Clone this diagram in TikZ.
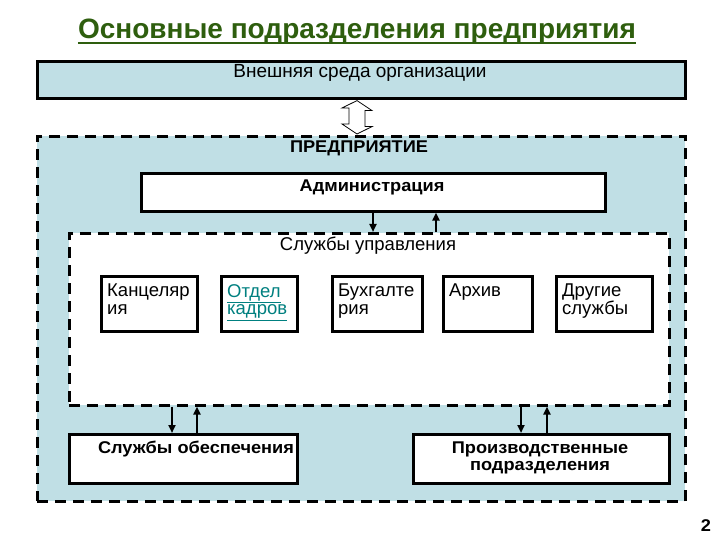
\documentclass[tikz,border=0pt]{standalone}
\usepackage{fontspec}
\setmainfont{Liberation Sans}
\newfontfamily\wideb[FakeStretch=1.07]{Liberation Sans}
\usetikzlibrary{arrows.meta,calc}
\definecolor{pale}{RGB}{192,223,229}
\definecolor{ttl}{RGB}{46,94,14}
\definecolor{lnk}{RGB}{0,128,128}
\begin{document}
\begin{tikzpicture}[x=1pt,y=-1pt,
  solidbox/.style={draw=black, line width=2.6pt, fill=white, anchor=north west, inner sep=0pt},
  dashbox/.style={draw=black, line width=2.6pt, dash pattern=on 11pt off 7pt, anchor=north west, inner sep=0pt},
  lbl/.style={font=\fontsize{18.5}{17}\selectfont, inner sep=0pt, anchor=base},
  blbl/.style={font=\fontsize{17}{17}\selectfont\wideb\bfseries, inner sep=0pt, anchor=base},
  small/.style={font=\fontsize{18.5}{17.5}\selectfont, inner sep=0pt, anchor=north west, align=left},
  arr/.style={line width=2pt, -{Triangle[length=8pt,width=7pt]}}
]
\useasboundingbox (0,0) rectangle (720,540);
\fill[white] (0,0) rectangle (720,540);
% title
\node[font=\fontsize{28}{30}\selectfont\bfseries, text=ttl, inner sep=0pt] (title) at (357,32) {Основные подразделения предприятия};
\draw[ttl, line width=2pt] ($(title.base west)+(0,4)$) -- ($(title.base east)+(0,4)$);
% environment
\node[solidbox, fill=pale, minimum width=648pt, minimum height=37pt] (env) at (36,60) {};
\node[lbl, font=\fontsize{19}{19}\selectfont] (envt) at (360,78) {Внешняя среда организации};
% enterprise
\node[dashbox, fill=pale, minimum width=648pt, minimum height=365pt] (ent) at (36,135) {};
\node[blbl] (entt) at (359,153) {ПРЕДПРИЯТИЕ};
% double arrow
\coordinate (da) at (357,0);
\draw[fill=white, line width=0.8pt] ($(da |- env.south)+(0,1)$) -- ++(15,10) -- ++(-7,0) -- ++(0,16) -- ++(7,0) -- ($(da |- ent.north)+(0,-1)$) -- ++(-15,-10) -- ++(7,0) -- ++(0,-16) -- ++(-7,0) -- cycle;
% administration
\node[solidbox, minimum width=464pt, minimum height=38pt] (adm) at (140,172) {};
\node[blbl] (admt) at (372,192) {Администрация};
% management services
\node[dashbox, fill=white, minimum width=600pt, minimum height=172pt] (serv) at (68,232) {};
\node[lbl] (servt) at (368,250) {Службы управления};
\coordinate (c1) at (373,0);
\coordinate (c2) at (436,0);
\draw[arr] (c1 |- adm.south) -- (c1 |- serv.north);
\draw[arr] (c2 |- serv.north) -- (c2 |- adm.south);
% small boxes
\node[solidbox, minimum width=96pt, minimum height=55pt] (k) at (100,275) {};
\node[solidbox, minimum width=76pt, minimum height=55pt] (o) at (220,275) {};
\node[solidbox, minimum width=90pt, minimum height=55pt] (b) at (331,275) {};
\node[solidbox, minimum width=89pt, minimum height=55pt] (a) at (442,275) {};
\node[solidbox, minimum width=96pt, minimum height=55pt] (d) at (555,275) {};
\node[small] (kt) at ($(k.north west)+(7,9)$) {Канцеляр\\ия};
\node[small, text=lnk] (ot) at ($(o.north west)+(7,9)$) {\underline{Отдел}\\\underline{кадров}};
\node[small] (bt) at ($(b.north west)+(7,9)$) {Бухгалте\\рия};
\node[small] (at) at ($(a.north west)+(7,9)$) {Архив};
\node[small] (dt) at ($(d.north west)+(7,9)$) {Другие\\службы};
% bottom boxes
\node[solidbox, minimum width=228pt, minimum height=49pt] (obes) at (68,433) {};
\node[blbl] (obest) at (196,453) {Службы обеспечения};
\node[solidbox, minimum width=256pt, minimum height=49pt] (prod) at (412,433) {};
\node[blbl] (prodt1) at (540,453) {Производственные};
\node[blbl] (prodt2) at (540,470) {подразделения};
\coordinate (c3) at (172,0);
\coordinate (c4) at (197,0);
\coordinate (c5) at (521,0);
\coordinate (c6) at (547,0);
\draw[arr] (c3 |- serv.south) -- (c3 |- obes.north);
\draw[arr] (c4 |- obes.north) -- (c4 |- serv.south);
\draw[arr] (c5 |- serv.south) -- (c5 |- prod.north);
\draw[arr] (c6 |- prod.north) -- (c6 |- serv.south);
% page number
\node[font=\fontsize{17}{18}\selectfont\wideb\bfseries, inner sep=0pt, anchor=base] (pg) at (706,531) {2};
\end{tikzpicture}
\end{document}
